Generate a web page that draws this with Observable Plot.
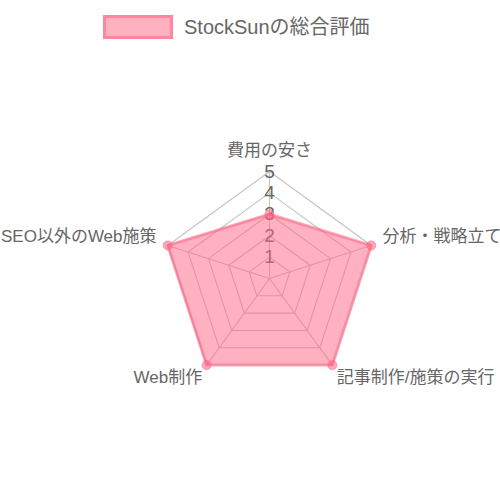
<!DOCTYPE html>
<html>
<head>
<meta charset="utf-8">
<script src="https://cdn.jsdelivr.net/npm/d3@7"></script>
<script src="https://cdn.jsdelivr.net/npm/@observablehq/plot@0.6"></script>
<style>
  html, body { margin: 0; padding: 0; background: #fff; }
  body { width: 500px; height: 500px; overflow: hidden; font-family: "Liberation Sans", "Noto Sans CJK JP", sans-serif; }
  #legend { position: relative; height: 50px; }
  #legend .box { position: absolute; left: 103px; top: 15px; width: 64px; height: 18px; background: rgba(255,99,132,0.5); border: 3px solid rgba(255,99,132,0.55); }
  #legend .txt { position: absolute; left: 184px; top: 15px; font-size: 20px; line-height: 24px; color: #666; white-space: nowrap; }
  #chart svg { display: block; }
</style>
</head>
<body>
<div id="legend"><div class="box"></div><div class="txt"></div></div>
<div id="chart"></div>
<script>
const seriesName = "StockSunの総合評価";
const labels = ["費用の安さ", "分析・戦略立て", "記事制作/施策の実行", "Web制作", "SEO以外のWeb施策"];
const values = [3, 5, 5, 5, 5];
const ticks = [1, 2, 3, 4, 5];
const maxValue = 5;

document.querySelector("#legend .txt").textContent = seriesName;

const n = labels.length;
const ang = i => (2 * Math.PI * i) / n;
const px = (r, i) => r * Math.sin(ang(i));
const py = (r, i) => r * Math.cos(ang(i));

// grid rings
const rings = [];
ticks.forEach(t => labels.forEach((l, i) => rings.push({level: t, x: px(t, i), y: py(t, i)})));
// spokes
const spokes = labels.map((l, i) => ({x: px(maxValue, i), y: py(maxValue, i)}));
// data polygon
const area = labels.map((l, i) => ({label: l, value: values[i], x: px(values[i], i), y: py(values[i], i)}));
// point labels
const pointLabels = labels.map((l, i) => {
  const c = Math.cos(ang(i)), s = Math.sin(ang(i));
  const top = Math.abs(s) < 0.01;
  const r = top ? 5.72 : (c >= 0 ? 5.55 : 5.35);
  return {
    label: l,
    x: r * s,
    y: r * c,
    anchor: top ? "middle" : (s > 0 ? "start" : "end"),
    line: c >= 0 ? "bottom" : "top"
  };
});

const chart = Plot.plot({
  width: 500,
  height: 450,
  margin: 0,
  x: {domain: [-5, 5], range: [269 - 107, 269 + 107], axis: null},
  y: {domain: [-5, 5], range: [228 + 107, 228 - 107], axis: null},
  style: {fontFamily: "'Liberation Sans', 'Noto Sans CJK JP', sans-serif", background: "#fff", overflow: "visible"},
  marks: [
    Plot.line(rings, {x: "x", y: "y", z: "level", curve: "linear-closed", stroke: "#c4c4c4", strokeWidth: 1.1}),
    Plot.link(spokes, {x1: 0, y1: 0, x2: "x", y2: "y", stroke: "#c4c4c4", strokeWidth: 1.1}),
    Plot.text(ticks, {x: 0, y: d => d, text: d => String(d), fill: "#666", fontSize: 19, textAnchor: "middle", lineAnchor: "middle"}),
    Plot.area(area, {x: "x", y: "y", fill: "rgba(255,99,132,0.5)", curve: "linear-closed", x1: "x", y1: "y", x2: 0, y2: 0}),
    Plot.line(area, {x: "x", y: "y", curve: "linear-closed", stroke: "rgba(255,99,132,0.55)", strokeWidth: 3}),
    Plot.dot(area, {x: "x", y: "y", r: 4.5, fill: "rgba(255,99,132,0.55)", stroke: "rgba(255,99,132,0.6)", strokeWidth: 1}),
    ...["start", "middle", "end"].flatMap(a => ["top", "bottom"].map(la =>
      Plot.text(pointLabels.filter(d => d.anchor === a && d.line === la), {x: "x", y: "y", text: "label", textAnchor: a, lineAnchor: la, fill: "#666", fontSize: 17})
    ))
  ]
});
document.getElementById("chart").appendChild(chart);
</script>
</body>
</html>
